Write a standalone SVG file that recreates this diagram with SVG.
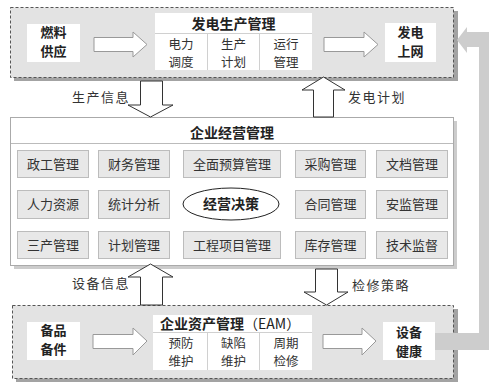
<svg xmlns="http://www.w3.org/2000/svg" width="499" height="391" viewBox="0 0 499 391">
<style>
text{font-family:"Noto Sans CJK SC","Liberation Sans",sans-serif;fill:#222}
.b{font-weight:bold;font-size:14px}
.bs{font-weight:bold;font-size:13px}
.s{font-size:12.5px;fill:#333}
.g{font-size:13px;fill:#333}
.l{font-size:13px;letter-spacing:1.5px;fill:#333}
.panel{fill:#e3e3e3;stroke:#555;stroke-width:1;stroke-dasharray:3,2}
.shadow{fill:#a3a3a3}
.wbox{fill:#fff;stroke:none}
.cell{fill:#e8e8e8;stroke:#bcbcbc;stroke-width:1}
.harrow{fill:#fff;stroke:#999;stroke-width:1}
.varrow{fill:#fff;stroke:#333;stroke-width:1}
.div{stroke:#d0d0d0;stroke-width:1}
</style>
<rect width="499" height="391" fill="#fff"/>

<g id="panel-top">
<rect class="shadow" x="14" y="11" width="444" height="70"/>
<rect class="panel" x="10.5" y="7.5" width="443" height="70"/>
</g>
<g id="panel-mid">
<rect fill="#cccccc" x="14" y="121" width="443" height="148"/>
<rect fill="#fff" stroke="#aaa" x="10.5" y="117.5" width="443" height="148"/>
<line x1="11" y1="143.5" x2="453" y2="143.5" stroke="#bbb"/>
<text class="b" x="232" y="138" text-anchor="middle">企业经营管理</text>
</g>
<g id="panel-bottom">
<rect class="shadow" x="16" y="309" width="442" height="73"/>
<rect class="panel" x="12.5" y="305.5" width="441" height="73"/>
</g>

<g id="connectors">
<path d="M435,333 H479 V47 H467 V53 L457,40 L467,27 V32 H489 V350 H435 Z" fill="#cdcdcd"/>
<path class="harrow" d="M94,37.5 H133 V32 L147,44.5 L133,57 V51.5 H94 Z"/>
<path class="harrow" d="M324,37.5 H364 V32 L378,44.5 L364,57 V51.5 H324 Z"/>
<path class="harrow" d="M93,334.5 H133 V328 L147,341 L133,355 V348.5 H93 Z"/>
<path class="harrow" d="M323,334.5 H362 V328 L376,341 L362,355 V348.5 H323 Z"/>
<path class="varrow" d="M140.5,81 H162.5 V105 H173 L150.5,117 L128,105 H140.5 Z"/>
<path class="varrow" d="M313.5,117 V90 H302 L323.5,77 L345,90 H333.5 V117 Z"/>
<path class="varrow" d="M140.5,305 V277 H128 L150.5,264 L173,277 H162.5 V305 Z"/>
<path class="varrow" d="M315.5,269 V292 H304 L326.5,305 L348,292 H337.5 V269 Z"/>
<text class="l" x="72" y="102">生产信息</text>
<text class="l" x="348" y="102">发电计划</text>
<text class="l" x="72" y="288">设备信息</text>
<text class="l" x="352" y="290">检修策略</text>
</g>

<g id="fuel">
<rect class="wbox" x="27" y="24" width="53" height="38"/>
<text class="bs" x="53.5" y="37" text-anchor="middle">燃料</text>
<text class="bs" x="53.5" y="56" text-anchor="middle">供应</text>
</g>
<g id="gen-mgmt">
<rect class="wbox" x="155" y="13" width="157" height="57"/>
<line class="div" x1="155" y1="33.5" x2="312" y2="33.5"/>
<line class="div" x1="207.5" y1="34" x2="207.5" y2="70"/>
<line class="div" x1="259.5" y1="34" x2="259.5" y2="70"/>
<text class="b" x="233.5" y="29" text-anchor="middle">发电生产管理</text>
<text class="s" x="181" y="48.5" text-anchor="middle">电力</text>
<text class="s" x="181" y="67" text-anchor="middle">调度</text>
<text class="s" x="233.5" y="48.5" text-anchor="middle">生产</text>
<text class="s" x="233.5" y="67" text-anchor="middle">计划</text>
<text class="s" x="286" y="48.5" text-anchor="middle">运行</text>
<text class="s" x="286" y="67" text-anchor="middle">管理</text>
</g>
<g id="grid-out">
<rect class="wbox" x="385" y="23" width="51" height="39"/>
<text class="bs" x="410.5" y="37" text-anchor="middle">发电</text>
<text class="bs" x="410.5" y="56" text-anchor="middle">上网</text>
</g>

<g id="cells">
<rect class="cell" x="17.5" y="150.5" width="71" height="27"/>
<rect class="cell" x="98.5" y="150.5" width="71" height="27"/>
<rect class="cell" x="183.5" y="150.5" width="97" height="27"/>
<rect class="cell" x="295.5" y="150.5" width="70" height="27"/>
<rect class="cell" x="376.5" y="150.5" width="71" height="27"/>
<rect class="cell" x="17.5" y="190.5" width="71" height="28"/>
<rect class="cell" x="98.5" y="190.5" width="71" height="28"/>
<rect class="cell" x="295.5" y="190.5" width="70" height="28"/>
<rect class="cell" x="376.5" y="190.5" width="71" height="28"/>
<rect class="cell" x="17.5" y="231.5" width="71" height="27"/>
<rect class="cell" x="98.5" y="231.5" width="71" height="27"/>
<rect class="cell" x="183.5" y="231.5" width="97" height="27"/>
<rect class="cell" x="295.5" y="231.5" width="70" height="27"/>
<rect class="cell" x="376.5" y="231.5" width="71" height="27"/>
<text class="g" x="53" y="168.5" text-anchor="middle">政工管理</text>
<text class="g" x="134" y="168.5" text-anchor="middle">财务管理</text>
<text class="g" x="232" y="168.5" text-anchor="middle">全面预算管理</text>
<text class="g" x="330.5" y="168.5" text-anchor="middle">采购管理</text>
<text class="g" x="412" y="168.5" text-anchor="middle">文档管理</text>
<text class="g" x="53" y="209" text-anchor="middle">人力资源</text>
<text class="g" x="134" y="209" text-anchor="middle">统计分析</text>
<text class="g" x="330.5" y="209" text-anchor="middle">合同管理</text>
<text class="g" x="412" y="209" text-anchor="middle">安监管理</text>
<text class="g" x="53" y="249.5" text-anchor="middle">三产管理</text>
<text class="g" x="134" y="249.5" text-anchor="middle">计划管理</text>
<text class="g" x="232" y="249.5" text-anchor="middle">工程项目管理</text>
<text class="g" x="330.5" y="249.5" text-anchor="middle">库存管理</text>
<text class="g" x="412" y="249.5" text-anchor="middle">技术监督</text>
</g>
<g id="decision">
<ellipse cx="231" cy="204" rx="48" ry="16" fill="#fff" stroke="#222" stroke-width="1"/>
<text class="b" x="231" y="209" text-anchor="middle">经营决策</text>
</g>

<g id="spares">
<rect class="wbox" x="27" y="322" width="53" height="38"/>
<text class="bs" x="53.5" y="335" text-anchor="middle">备品</text>
<text class="bs" x="53.5" y="354" text-anchor="middle">备件</text>
</g>
<g id="eam">
<rect class="wbox" x="153" y="315" width="159" height="55"/>
<line class="div" x1="153" y1="332.5" x2="312" y2="332.5"/>
<line class="div" x1="207.5" y1="333" x2="207.5" y2="370"/>
<line class="div" x1="259.5" y1="333" x2="259.5" y2="370"/>
<text class="b" x="160" y="328.5">企业资产管理<tspan font-weight="normal">（EAM）</tspan></text>
<text class="s" x="181" y="347.5" text-anchor="middle">预防</text>
<text class="s" x="181" y="366" text-anchor="middle">维护</text>
<text class="s" x="233.5" y="347.5" text-anchor="middle">缺陷</text>
<text class="s" x="233.5" y="366" text-anchor="middle">维护</text>
<text class="s" x="286" y="347.5" text-anchor="middle">周期</text>
<text class="s" x="286" y="366" text-anchor="middle">检修</text>
</g>
<g id="health">
<rect class="wbox" x="383" y="322" width="52" height="38"/>
<text class="bs" x="409" y="337" text-anchor="middle">设备</text>
<text class="bs" x="409" y="356" text-anchor="middle">健康</text>
</g>
</svg>
